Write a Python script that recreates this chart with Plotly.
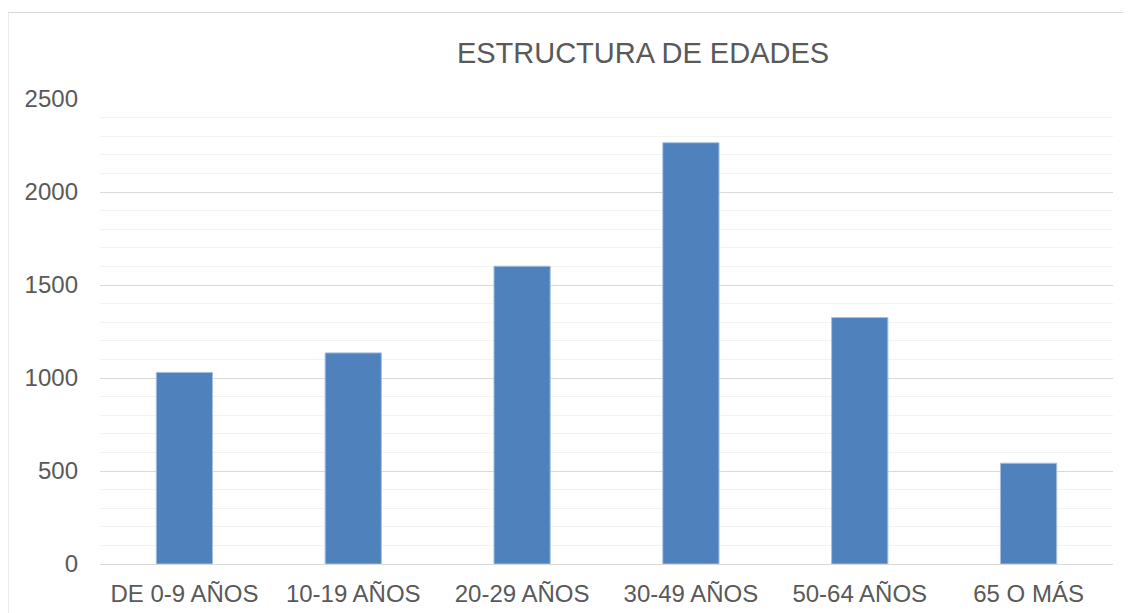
import plotly.graph_objects as go

categories = ["DE 0-9 AÑOS", "10-19 AÑOS", "20-29 AÑOS", "30-49 AÑOS", "50-64 AÑOS", "65 O MÁS"]
values = [1030, 1135, 1601, 2265, 1325, 542]
title_text = "ESTRUCTURA DE EDADES"

# page body adds an 8px margin, so the figure is sized/offset to compensate
OFF = 8
W, H = 1131 - OFF, 613 - OFF
L, R, T, B = 100 - OFF, 18, 99 - OFF, 49
pw, ph = W - L - R, H - T - B

fig = go.Figure(go.Bar(
    x=categories, y=values,
    marker=dict(color="#4f81bd", line=dict(color="#a7bfdf", width=1)),
))

font_color = "#595959"
fig.update_layout(
    width=W, height=H,
    margin=dict(l=L, r=R, t=T, b=B, autoexpand=False),
    paper_bgcolor="white", plot_bgcolor="white",
    bargap=0.667,
    showlegend=False,
    font=dict(family="Liberation Sans, Arial", size=24, color=font_color),
    title=dict(text=title_text, x=(643 - OFF) / W, xanchor="center",
               y=1 - (53 - OFF) / H, yanchor="middle",
               font=dict(size=29, color=font_color)),
)
fig.update_yaxes(
    range=[0, 2500], dtick=500, showgrid=True, gridcolor="#d9d9d9", gridwidth=1,
    minor=dict(dtick=100, showgrid=True, gridcolor="#f2f2f2", gridwidth=1),
    zeroline=True, zerolinecolor="#d9d9d9", zerolinewidth=1,
    showline=False, ticks="", ticklabelstandoff=21,
    tickfont=dict(size=24, color=font_color),
)
fig.update_xaxes(
    showgrid=False, showline=False, ticks="", ticklabelstandoff=13,
    tickfont=dict(size=24, color=font_color),
)
# chart frame
fig.add_shape(type="rect", xref="paper", yref="paper",
              x0=(8 - 100) / pw, x1=(1140 - 100) / pw,
              y0=-(49 + 10) / ph, y1=(564 - 12.5) / ph,
              line=dict(color="#d9d9d9", width=1), layer="below")

fig.write_html("out.html")
